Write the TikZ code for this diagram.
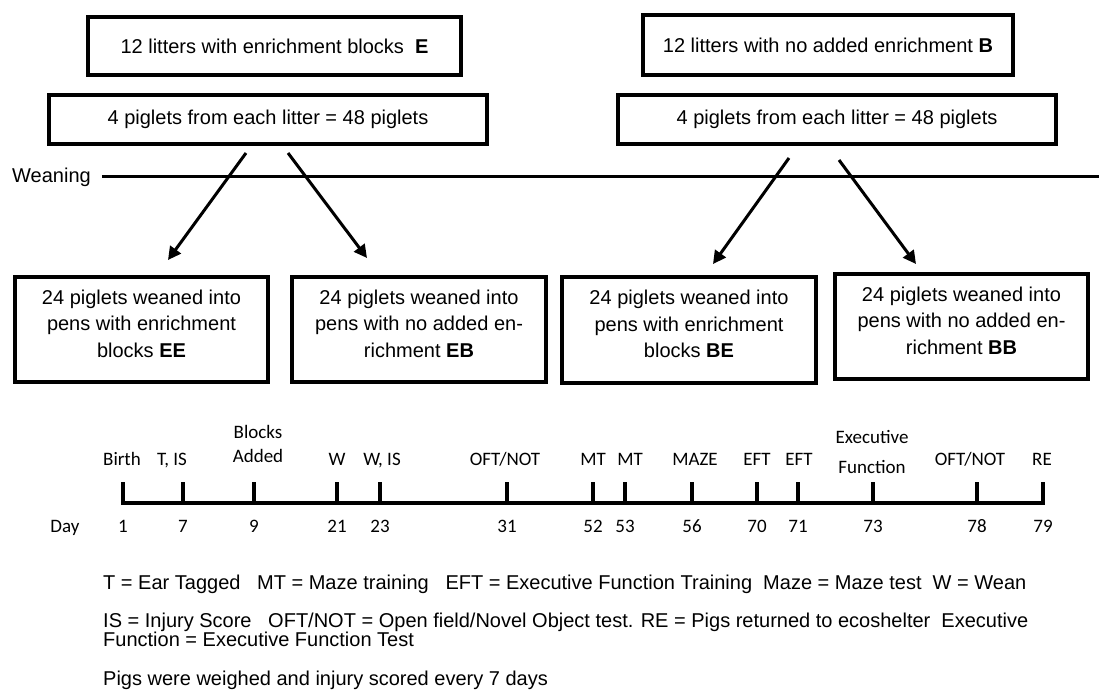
\documentclass[tikz,border=0pt]{standalone}
\usepackage{fontspec}
\setmainfont{Liberation Sans}
\newfontfamily\calfont{Carlito}
\usetikzlibrary{arrows.meta}
\begin{document}
\begin{tikzpicture}[x=1pt,y=-1pt,
  box/.style={draw, line width=3.3pt, inner sep=0pt, align=center,
    font=\fontsize{20}{26.5}\selectfont},
  conn/.style={line width=3pt, -{Triangle[length=13pt,width=13pt]}},
  rule/.style={line width=3pt},
  tline/.style={line width=3.5pt},
  tl/.style={font=\calfont\fontsize{19}{24}\selectfont, align=center, inner sep=0pt},
  leg/.style={anchor=base west, font=\fontsize{20}{24}\selectfont, inner sep=0pt}
]
\useasboundingbox (0,0) rectangle (1099,695);

% top boxes
\node[box, minimum width=373pt, minimum height=58pt] (E1) at (274.5,46) {12 litters with enrichment blocks\ \ \textbf{E}};
\node[box, minimum width=370pt, minimum height=60pt] (B1) at (828,45) {12 litters with no added enrichment \textbf{B}};
\node[box, minimum width=438pt, minimum height=49pt] (E2) at (268,119.5) {4 piglets from each litter = 48 piglets};
\node[box, minimum width=438pt, minimum height=49pt] (B2) at (837,119.5) {4 piglets from each litter = 48 piglets};

% weaning line
\node[anchor=west, inner sep=0pt, font=\fontsize{20}{24}\selectfont] (wean) at (12,177) {Weaning};
\coordinate (wend) at (1099,177);
\draw[rule] ([xshift=11pt]wean.east) -- (wend);

% bottom boxes
\node[box, minimum width=253pt, minimum height=105pt] (EE) at (141.5,329.5) {24 piglets weaned into\\pens with enrichment\\blocks \textbf{EE}\\[-14.5pt]\mbox{}};
\node[box, minimum width=254pt, minimum height=105pt] (EB) at (419,329.5) {24 piglets weaned into\\pens with no added en-\\richment \textbf{EB}\\[-14.5pt]\mbox{}};
\node[box, minimum width=254pt, minimum height=106pt] (BE) at (689,330) {24 piglets weaned into\\pens with enrichment\\blocks \textbf{BE}\\[-14.5pt]\mbox{}};
\node[box, minimum width=253pt, minimum height=105pt] (BB) at (961.5,326.5) {24 piglets weaned into\\pens with no added en-\\richment \textbf{BB}\\[-14.5pt]\mbox{}};

% arrows
\coordinate (a1s) at (246,153); \coordinate (a1e) at (168,260);
\coordinate (a2s) at (288,153); \coordinate (a2e) at (367,258);
\coordinate (a3s) at (789,158); \coordinate (a3e) at (713,264);
\coordinate (a4s) at (839,160); \coordinate (a4e) at (916,264);
\draw[conn] (a1s) -- (a1e);
\draw[conn] (a2s) -- (a2e);
\draw[conn] (a3s) -- (a3e);
\draw[conn] (a4s) -- (a4e);

% timeline
\draw[tline] (123,482) -- (123,503) -- (1043,503) -- (1043,482);
\foreach \x in {183,254,337,380,507,593,625,692,757,798,873,977} {
  \draw[tline] (\x,482) -- (\x,503);
}
\node[tl, anchor=base] (l1) at (122,465) {Birth};
\node[tl, anchor=base] (l2) at (172,465) {T, IS};
\node[tl] (l3) at (258,444) {Blocks\\Added};
\node[tl, anchor=base] (l4) at (337,465) {W};
\node[tl, anchor=base] (l5) at (382,465) {W, IS};
\node[tl, anchor=base] (l6) at (505,465) {OFT/NOT};
\node[tl, anchor=base] (l7) at (593,465) {MT};
\node[tl, anchor=base] (l8) at (630,465) {MT};
\node[tl, anchor=base] (l9) at (695,465) {MAZE};
\node[tl, anchor=base] (l10) at (757,465) {EFT};
\node[tl, anchor=base] (l11) at (799,465) {EFT};
\node[tl, font=\calfont\fontsize{19}{30}\selectfont] (l12) at (872,452) {Executive\\Function};
\node[tl, anchor=base] (l13) at (970,465) {OFT/NOT};
\node[tl, anchor=base] (l14) at (1042,465) {RE};

\node[tl, anchor=base] (day) at (65,532) {Day};
\foreach \x/\d in {123/1,183/7,254/9,337/21,380/23,507/31,593/52,625/53,692/56,757/70,798/71,873/73,977/78,1043/79} {
  \node[tl, anchor=base] at (\x,532) {\d};
}

% legend
\node[leg] (g1) at (103,589) {T = Ear Tagged\ \ \ MT = Maze training\ \ \ EFT = Executive Function Training\ \ Maze = Maze test\ \ W = Wean};
\node[leg] (g2) at (103,627) {IS = Injury Score\ \ \ OFT/NOT = Open field/Novel Object test. RE = Pigs returned to ecoshelter\ \ Executive};
\node[leg] (g3) at (103,646) {Function = Executive Function Test};
\node[leg] (g4) at (103,685) {Pigs were weighed and injury scored every 7 days};
\end{tikzpicture}
\end{document}
